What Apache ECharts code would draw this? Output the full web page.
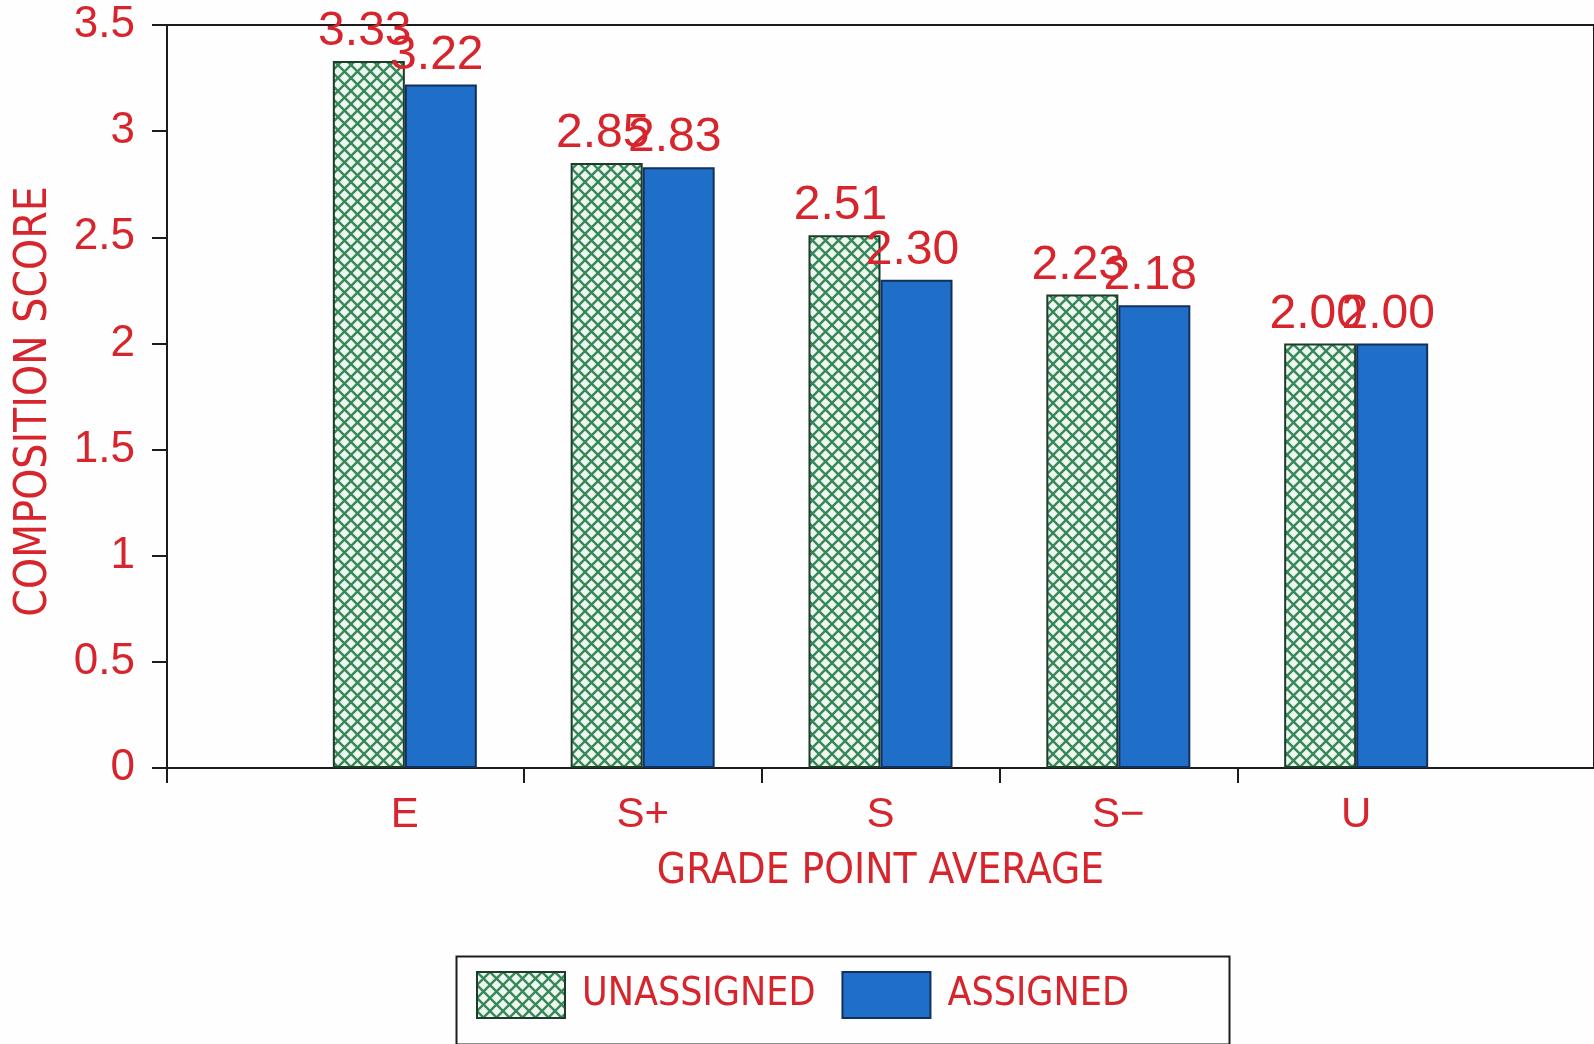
<!DOCTYPE html>
<html>
<head>
<meta charset="utf-8">
<title>Composition score by grade point average</title>
<script src="https://cdn.jsdelivr.net/npm/echarts@6/dist/echarts.min.js"></script>
<style>
  html, body { margin: 0; padding: 0; background: #fdfefd; }
  #chart { width: 1594px; height: 1044px; }
</style>
</head>
<body>
<div id="chart"></div>
<script>
// Grade groups along the x axis
const grades = ['E', 'S+', 'S', 'S\u2212', 'U'];
// Mean composition score per group
const unassigned = [3.33, 2.85, 2.51, 2.23, 2.00];
const assigned = [3.22, 2.83, 2.30, 2.18, 2.00];
// Y axis range
const yMin = 0, yMax = 3.5, yStep = 0.5;

const RED = '#d6252c';
const FONT = "'DejaVu Sans Condensed', 'Liberation Sans Narrow', 'Liberation Sans', Arial, sans-serif";
const FONT_WIDE = "'Liberation Sans', Arial, sans-serif";

// Green cross-hatch fill for the unassigned bars
function crossHatch() {
  const s = 13;
  const c = document.createElement('canvas');
  c.width = s; c.height = s;
  const g = c.getContext('2d');
  g.fillStyle = '#eef8f1';
  g.fillRect(0, 0, s, s);
  g.strokeStyle = '#37875a';
  g.lineWidth = 2.4;
  for (const o of [-s, 0, s]) {
    g.beginPath(); g.moveTo(o - 1, -1); g.lineTo(o + s + 1, s + 1); g.stroke();
    g.beginPath(); g.moveTo(o + s + 1, -1); g.lineTo(o - 1, s + 1); g.stroke();
  }
  return c;
}

// Groups sit at positions 1..n on a 0..n+1 axis
const pos = grades.map((g, i) => i + 1);
const toPoints = vals => vals.map((v, i) => [pos[i], v]);

const valueLabel = {
  show: true,
  position: 'top',
  distance: 5,
  offset: [-4, 0],
  color: RED,
  fontFamily: FONT_WIDE,
  fontSize: 48,
  formatter: p => p.value[1].toFixed(2)
};

const chart = echarts.init(document.getElementById('chart'));
chart.setOption({
  backgroundColor: '#fdfefd',
  animation: false,
  grid: {
    left: 167, right: -9, top: 25, bottom: 276,
    show: true, borderColor: '#1c1c1c', borderWidth: 2
  },
  xAxis: {
    type: 'value',
    min: 0,
    max: grades.length + 1,
    name: 'GRADE POINT AVERAGE',
    nameLocation: 'middle',
    nameGap: 83,
    nameTextStyle: { color: RED, fontFamily: FONT, fontSize: 42 },
    axisLine: { show: true, lineStyle: { color: '#1c1c1c', width: 2 } },
    axisTick: {
      show: true, length: 15, lineStyle: { color: '#1c1c1c', width: 2 },
      customValues: [0, 1.5, 2.5, 3.5, 4.5]
    },
    axisLabel: {
      color: RED, fontFamily: FONT_WIDE, fontSize: 42, margin: 26,
      customValues: pos,
      formatter: v => grades[Math.round(v) - 1] || ''
    },
    splitLine: { show: false }
  },
  yAxis: {
    type: 'value',
    min: yMin, max: yMax, interval: yStep,
    name: 'COMPOSITION SCORE',
    nameLocation: 'middle',
    nameGap: 110,
    nameTextStyle: { color: RED, fontFamily: FONT, fontSize: 44, padding: [0, 10, 0, 0] },
    axisLine: { show: true, lineStyle: { color: '#1c1c1c', width: 2 } },
    axisTick: { show: true, length: 15, lineStyle: { color: '#1c1c1c', width: 2 } },
    axisLabel: { color: RED, fontFamily: FONT_WIDE, fontSize: 44, margin: 32 },
    splitLine: { show: false }
  },
  legend: {
    left: 476, top: 971,
    padding: 0,
    icon: 'rect',
    itemWidth: 88, itemHeight: 46, itemGap: 26,
    textStyle: { color: RED, fontFamily: FONT, fontSize: 39, padding: [0, 0, 0, 12] },
    data: ['UNASSIGNED', 'ASSIGNED']
  },
  // frame around the legend
  graphic: [{
    type: 'rect',
    left: 454, top: 954,
    shape: { width: 773, height: 88 },
    style: { fill: 'none', stroke: '#1c1c1c', lineWidth: 2 },
    silent: true
  }],
  series: [
    {
      name: 'UNASSIGNED',
      type: 'bar',
      barWidth: 72,
      barGap: '0%',
      data: toPoints(unassigned),
      itemStyle: {
        color: { image: crossHatch(), repeat: 'repeat' },
        borderColor: '#1f3b2a', borderWidth: 2
      },
      label: valueLabel
    },
    {
      name: 'ASSIGNED',
      type: 'bar',
      barWidth: 72,
      barGap: '0%',
      data: toPoints(assigned),
      itemStyle: { color: '#1f6ec8', borderColor: '#12305a', borderWidth: 2 },
      label: valueLabel
    }
  ]
});
</script>
</body>
</html>
